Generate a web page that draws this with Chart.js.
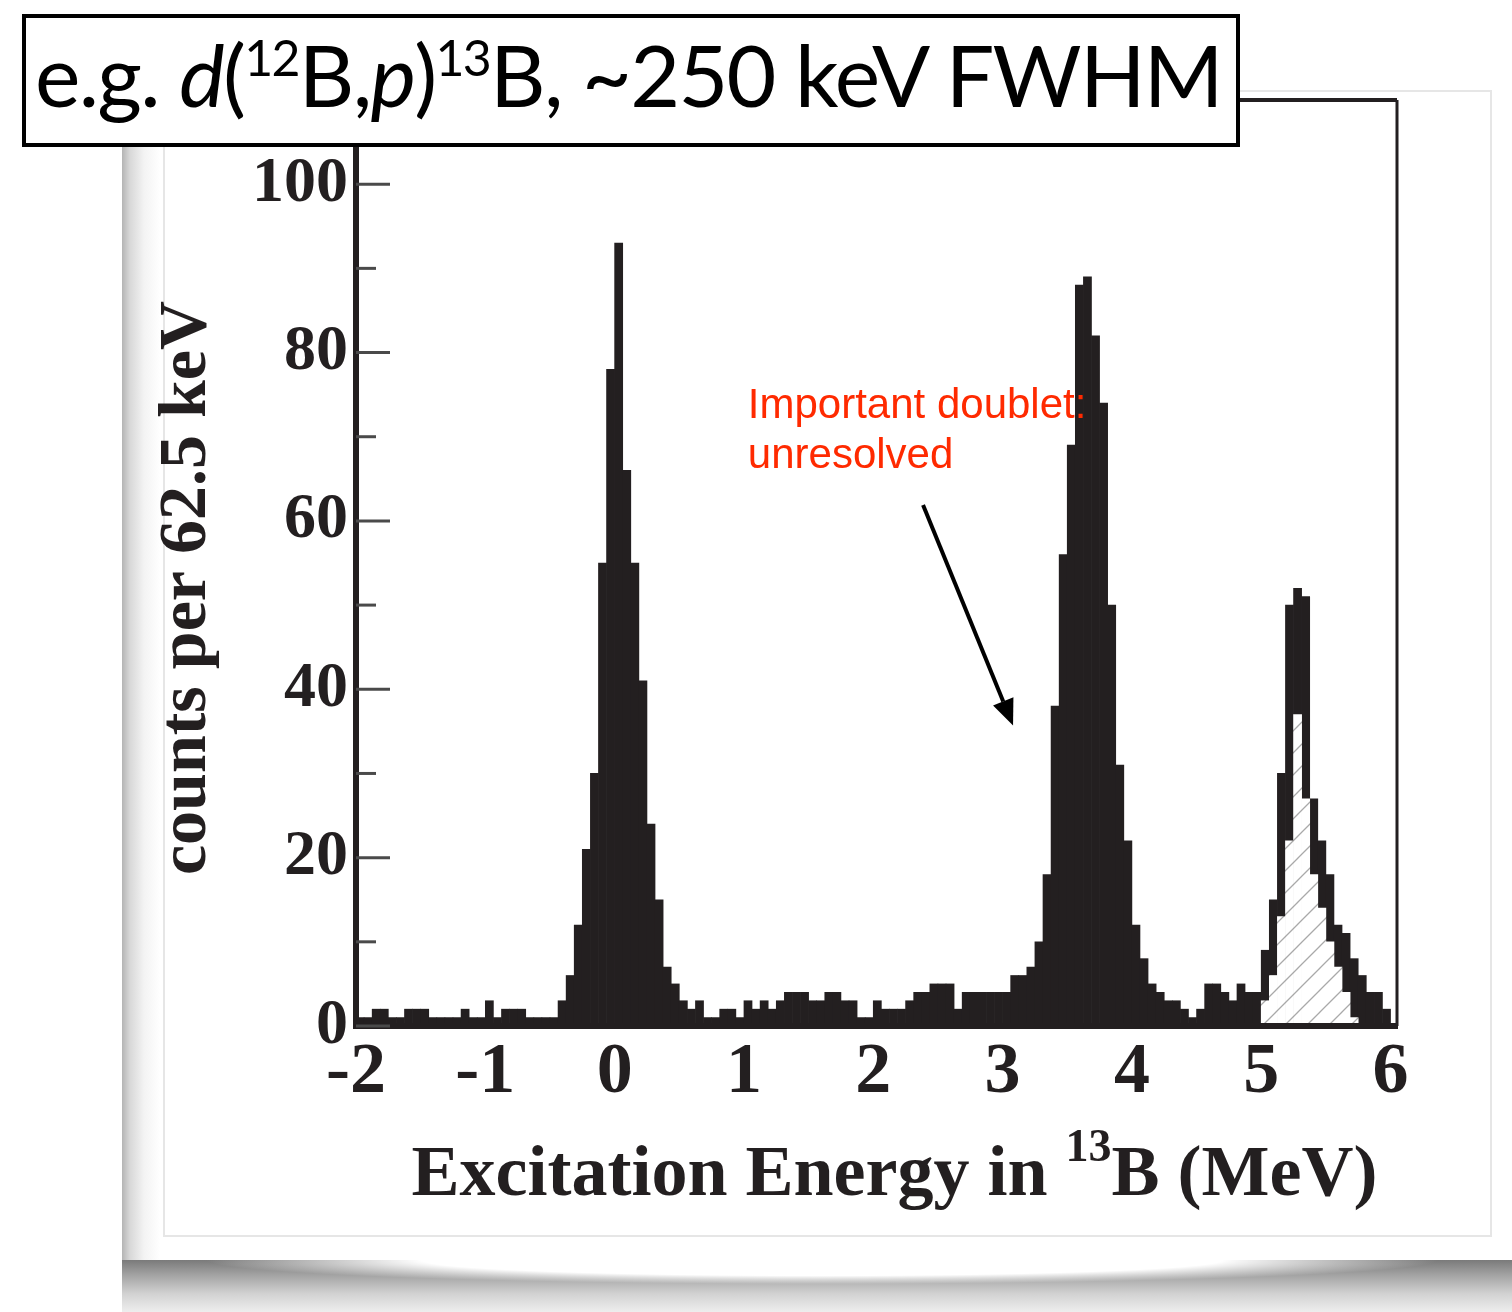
<!DOCTYPE html>
<html>
<head>
<meta charset="utf-8">
<script src="https://cdn.jsdelivr.net/npm/chart.js@4.4.1/dist/chart.umd.min.js"></script>
<style>
  html, body { margin: 0; padding: 0; background: #fff; }
  body { width: 1512px; height: 1312px; position: relative; overflow: hidden; }
  .card {
    position: absolute; left: 122px; top: 60px; width: 1400px; height: 1252px;
    background: linear-gradient(to right, #b4b4b4 0px, #d8d8d8 8px, #f3f3f3 22px, #fff 38px);
  }
  .card-line {
    position: absolute; left: 163px; top: 90px; width: 1325px; height: 1143px;
    border: 2px solid #e6e6e6;
  }
  .curl {
    position: absolute; left: 122px; top: 1260px; width: 1400px; height: 52px;
    background:
      radial-gradient(ellipse 44% 24px at 50% 0px, #fff 65%, rgba(255,255,255,0) 100%),
      linear-gradient(to bottom, #7a7a7a 0px, #a0a0a0 14px, #d2d2d2 34px, #eeeeee 52px);
  }
  #wrap { position: absolute; left: 0; top: 0; width: 1512px; height: 1312px; }
  .caption {
    position: absolute; left: 22px; top: 14px; width: 1201px; height: 125px;
    border: 4px solid #000; background: #fff; z-index: 5;
    font-family: Lato, "Noto Sans", sans-serif; font-size: 86px; color: #000;
    line-height: 112px; white-space: nowrap; padding-left: 9px; box-sizing: content-box;
  }
  .caption sup { font-size: 0.58em; vertical-align: 0; position: relative; top: -0.62em; }
</style>
</head>
<body>
<div class="card"></div>
<div class="card-line"></div>
<div class="curl"></div>
<div id="wrap"><canvas id="spectrumChart" width="1512" height="1312"></canvas></div>
<div class="caption"><span id="captionText">e.g. <i>d</i>(<sup>12</sup>B,<i>p</i>)<sup>13</sup>B, ~250 keV FWHM</span></div>
<script>
// --- Dữ liệu phổ (counts per 62.5 keV) ---
const binStartMeV = -2;
const binWidthMeV = 0.0625;
const counts = [
  1, 1, 2, 2, 1, 1, 2, 2, 2, 1, 1, 1, 1, 2, 1, 1,
  3, 1, 2, 2, 2, 1, 1, 1, 1, 3, 6, 12, 21, 30, 55, 78,
  93, 66, 55, 41, 24, 15, 7, 5, 3, 2, 3, 1, 1, 2, 2, 1,
  3, 2, 3, 2, 3, 4, 4, 4, 3, 3, 4, 4, 3, 3, 1, 1,
  3, 2, 2, 2, 3, 4, 4, 5, 5, 5, 2, 4, 4, 4, 4, 4,
  4, 6, 6, 7, 10, 18, 38, 56, 69, 88, 89, 82, 74, 50, 31, 22,
  12, 8, 5, 4, 3, 3, 2, 1, 2, 5, 5, 4, 3, 5, 4, 4,
  9, 15, 30, 50, 52, 51, 27, 22, 18, 12, 11, 8, 6, 4, 4, 2
];
// Thành phần gạch chéo (đỉnh ~5.1 MeV)
const hatchedFirstBin = 112;
const hatchedCounts = [3, 6, 13, 22, 37, 27, 18, 14, 10, 7, 4, 1];

const xTickValues = [-2, -1, 0, 1, 2, 3, 4, 5, 6];
const yTickValues = [0, 20, 40, 60, 80, 100];
const yMinorValues = [10, 30, 50, 70, 90];

const noteLines = ['Important doublet:', 'unresolved'];
const noteAnchor = { x: 1.03, y: 72.2 };
const arrowFrom = { x: 2.385, y: 61.9 };
const arrowTo = { x: 3.081, y: 35.7 };

const binCenters = counts.map((_, i) => binStartMeV + binWidthMeV * (i + 0.5));
const totalPoints = counts.map((c, i) => ({ x: binCenters[i], y: c }));
const hatchedPoints = hatchedCounts.map((c, i) => ({ x: binCenters[hatchedFirstBin + i], y: c }));

const ink = '#231f20';
const serif = '"Liberation Serif", "Times New Roman", serif';

// Căn chữ tiêu đề cho vừa khung
(function fitCaption() {
    const span = document.getElementById('captionText');
    const w = span.getBoundingClientRect().width;
    const n = span.textContent.length;
    span.style.letterSpacing = ((1187 - w) / n).toFixed(2) + 'px';
})();

function makeHatch() {
    const c = document.createElement('canvas');
    c.width = 22; c.height = 22;
    const g = c.getContext('2d');
    g.fillStyle = '#fff';
    g.fillRect(0, 0, 22, 22);
    g.strokeStyle = '#a9a9a9';
    g.lineWidth = 1.3;
    g.beginPath();
    g.moveTo(0, 22); g.lineTo(22, 0);
    g.moveTo(-11, 11); g.lineTo(11, -11);
    g.moveTo(11, 33); g.lineTo(33, 11);
    g.stroke();
    return g.createPattern(c, 'repeat');
}

const extrasPlugin = {
    id: 'extras',
    afterDraw(chart) {
        const { ctx, chartArea: a, scales: { x, y } } = chart;
        ctx.save();

        // khung trên + phải
        ctx.strokeStyle = ink;
        ctx.lineWidth = 4;
        ctx.beginPath();
        ctx.moveTo(a.left, a.top);
        ctx.lineTo(a.right, a.top);
        ctx.stroke();
        ctx.lineWidth = 3;
        ctx.beginPath();
        ctx.moveTo(a.right, a.top);
        ctx.lineTo(a.right, a.bottom);
        ctx.stroke();

        // vạch chia hướng vào trong
        ctx.strokeStyle = '#4a4a4a';
        ctx.lineWidth = 3;
        yTickValues.concat(yMinorValues).forEach(v => {
            const py = y.getPixelForValue(v);
            const len = yMinorValues.includes(v) ? 20 : 34;
            ctx.beginPath();
            ctx.moveTo(a.left, py);
            ctx.lineTo(a.left + len, py);
            ctx.stroke();
        });

        // tên trục y
        ctx.fillStyle = ink;
        ctx.font = 'bold 68px ' + serif;
        ctx.textAlign = 'center';
        ctx.textBaseline = 'alphabetic';
        ctx.save();
        ctx.translate(a.left - 151, (a.top + a.bottom) / 2 + 25);
        ctx.rotate(-Math.PI / 2);
        ctx.fillText('counts per 62.5 keV', 0, 0);
        ctx.restore();

        // tên trục x (có chỉ số trên)
        ctx.textAlign = 'left';
        const big = 'bold 72px ' + serif, small = 'bold 46px ' + serif;
        const parts = [['Excitation Energy in ', big, 0], ['13', small, -34], ['B (MeV)', big, 0]];
        let total = 0;
        parts.forEach(p => { ctx.font = p[1]; total += ctx.measureText(p[0]).width; });
        let px = (a.left + a.right) / 2 + 18 - total / 2;
        const base = a.bottom + 169;
        parts.forEach(p => {
            ctx.font = p[1];
            ctx.fillText(p[0], px, base + p[2]);
            px += ctx.measureText(p[0]).width;
        });

        // chú thích màu đỏ
        ctx.fillStyle = '#ff2a00';
        ctx.font = '42px "Liberation Sans", Arial, sans-serif';
        const nx = x.getPixelForValue(noteAnchor.x), ny = y.getPixelForValue(noteAnchor.y);
        noteLines.forEach((t, i) => ctx.fillText(t, nx, ny + i * 50));

        // mũi tên
        const x0 = x.getPixelForValue(arrowFrom.x), y0 = y.getPixelForValue(arrowFrom.y);
        const x1 = x.getPixelForValue(arrowTo.x), y1 = y.getPixelForValue(arrowTo.y);
        const ang = Math.atan2(y1 - y0, x1 - x0);
        const head = 26, half = 11;
        ctx.strokeStyle = '#000';
        ctx.fillStyle = '#000';
        ctx.lineWidth = 4;
        ctx.beginPath();
        ctx.moveTo(x0, y0);
        ctx.lineTo(x1 - Math.cos(ang) * head, y1 - Math.sin(ang) * head);
        ctx.stroke();
        const bx = x1 - Math.cos(ang) * head, by = y1 - Math.sin(ang) * head;
        ctx.beginPath();
        ctx.moveTo(x1, y1);
        ctx.lineTo(bx + Math.sin(ang) * half, by - Math.cos(ang) * half);
        ctx.lineTo(bx - Math.sin(ang) * half, by + Math.cos(ang) * half);
        ctx.closePath();
        ctx.fill();

        ctx.restore();
    }
};

document.addEventListener("DOMContentLoaded", function() {
    const spectrumCtx = document.getElementById('spectrumChart').getContext('2d');
    new Chart(spectrumCtx, {
        type: 'bar',
        data: {
            datasets: [{
                label: 'hatched',
                data: hatchedPoints,
                backgroundColor: makeHatch(),
                borderWidth: 0,
                grouped: false,
                order: 0,
                barPercentage: 1,
                categoryPercentage: 1
            }, {
                label: 'counts per 62.5 keV',
                data: totalPoints,
                backgroundColor: ink,
                borderWidth: 0,
                grouped: false,
                order: 1,
                barPercentage: 1,
                categoryPercentage: 1
            }]
        },
        options: {
            responsive: false,
            animation: false,
            devicePixelRatio: 1,
            layout: { padding: { left: 0, top: 100, right: 115, bottom: 86 } },
            plugins: {
                legend: { display: false },
                tooltip: { enabled: false }
            },
            scales: {
                x: {
                    type: 'linear',
                    min: -2,
                    max: 6.05,
                    offset: false,
                    grid: { display: false, drawTicks: false },
                    border: { display: true, color: ink, width: 6, z: 1 },
                    afterBuildTicks: s => { s.ticks = xTickValues.map(v => ({ value: v })); },
                    afterFit: s => { s.height = 200; },
                    ticks: {
                        font: { family: serif, weight: 'bold', size: 72 },
                        color: ink,
                        padding: 4,
                        maxRotation: 0,
                        autoSkip: false
                    }
                },
                y: {
                    min: 0,
                    max: 110,
                    grid: { display: false, drawTicks: false },
                    border: { display: true, color: ink, width: 6, z: 1 },
                    afterBuildTicks: s => { s.ticks = yTickValues.map(v => ({ value: v })); },
                    afterFit: s => { s.width = 356; },
                    ticks: {
                        font: { family: serif, weight: 'bold', size: 64 },
                        color: ink,
                        padding: 8
                    }
                }
            }
        },
        plugins: [extrasPlugin]
    });
});
</script>
</body>
</html>
